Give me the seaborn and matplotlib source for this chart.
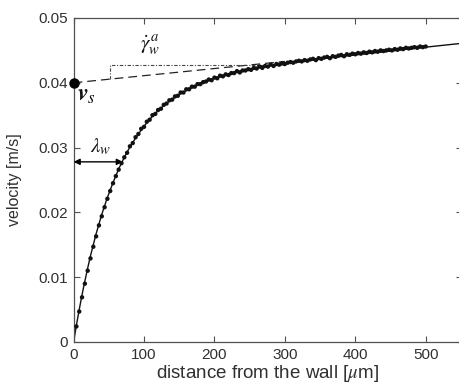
import numpy as np
import pandas as pd
import matplotlib
matplotlib.use("Agg")
import matplotlib.pyplot as plt
import seaborn as sns

# ---- data ----
data_x = [4, 8, 12, 16, 20, 24, 28, 32, 36, 40, 44, 48, 52, 56, 60, 64, 68, 72, 76, 80,
          84, 88, 92, 96, 100, 104, 108, 112, 116, 120, 124, 128, 132, 136, 140, 144, 148, 152, 156, 160,
          164, 168, 172, 176, 180, 184, 188, 192, 196, 200, 204, 208, 212, 216, 220, 224, 228, 232, 236, 240,
          244, 248, 252, 256, 260, 264, 268, 272, 276, 280, 284, 288, 292, 296, 300, 304, 308, 312, 316, 320,
          324, 328, 332, 336, 340, 344, 348, 352, 356, 360, 364, 368, 372, 376, 380, 384, 388, 392, 396, 400,
          404, 408, 412, 416, 420, 424, 428, 432, 436, 440, 444, 448, 452, 456, 460, 464, 468, 472, 476, 480,
          484, 488, 492, 496, 500]
data_v = [0.0024, 0.0047, 0.0069, 0.0090, 0.0110, 0.0129, 0.0147, 0.0163, 0.0180, 0.0194,
          0.0208, 0.0221, 0.0233, 0.0245, 0.0256, 0.0266, 0.0276, 0.0285, 0.0292, 0.0302,
          0.0307, 0.0316, 0.0321, 0.0329, 0.0332, 0.0340, 0.0343, 0.0350, 0.0352, 0.0358,
          0.0360, 0.0366, 0.0368, 0.0373, 0.0374, 0.0379, 0.0380, 0.0385, 0.0385, 0.0390,
          0.0390, 0.0394, 0.0394, 0.0398, 0.0398, 0.0401, 0.0402, 0.0405, 0.0404, 0.0408,
          0.0407, 0.0411, 0.0410, 0.0413, 0.0412, 0.0415, 0.0415, 0.0418, 0.0416, 0.0419,
          0.0419, 0.0421, 0.0420, 0.0423, 0.0422, 0.0425, 0.0423, 0.0426, 0.0425, 0.0428,
          0.0426, 0.0429, 0.0428, 0.0430, 0.0429, 0.0431, 0.0432, 0.0431, 0.0433, 0.0434,
          0.0433, 0.0435, 0.0434, 0.0436, 0.0437, 0.0435, 0.0438, 0.0437, 0.0439, 0.0440,
          0.0438, 0.0441, 0.0440, 0.0442, 0.0443, 0.0441, 0.0444, 0.0443, 0.0445, 0.0444,
          0.0446, 0.0445, 0.0447, 0.0446, 0.0448, 0.0447, 0.0449, 0.0448, 0.0450, 0.0449,
          0.0450, 0.0451, 0.0450, 0.0452, 0.0451, 0.0453, 0.0452, 0.0454, 0.0453, 0.0454,
          0.0455, 0.0454, 0.0456, 0.0455, 0.0456]

fit_x = [0, 4, 8, 12, 16, 20, 24, 28, 32, 36, 40, 48, 56, 64, 72, 80, 90, 100, 110, 120,
         135, 150, 165, 180, 200, 220, 240, 260, 280, 300, 350, 400, 450, 500, 552]
fit_v = [0.0, 0.0026, 0.0050, 0.0073, 0.0094, 0.0114, 0.0133, 0.0150, 0.0167, 0.0182,
         0.0197, 0.0223, 0.0246, 0.0267, 0.0285, 0.0301, 0.0318, 0.0333, 0.0346, 0.0357,
         0.0371, 0.0382, 0.0391, 0.0399, 0.0407, 0.0413, 0.0419, 0.0423, 0.0427, 0.0430,
         0.0437, 0.0443, 0.0449, 0.0455, 0.0461]

slip_x = [0, 300]
slip_v = [0.0400, 0.0433]

slope_x = [52, 52, 300]
slope_v = [0.0406, 0.0428, 0.0428]

vs_point = (0, 0.0400)
lambda_w = 70
lambda_v = 0.0278

x_ticks = [0, 100, 200, 300, 400, 500]
x_labels = ["0", "100", "200", "300", "400", "500"]
y_ticks = [0, 0.01, 0.02, 0.03, 0.04, 0.05]
y_labels = ["0", "0.01", "0.02", "0.03", "0.04", "0.05"]

# ---- style ----
sns.set_style("ticks")
plt.rcParams["font.family"] = ["Liberation Sans", "DejaVu Sans"]
plt.rcParams["mathtext.fontset"] = "stix"
txt = "#303030"
spine_c = "#505050"

fig = plt.figure(figsize=(4.6, 3.87), dpi=100)
ax = fig.add_axes([0.160, 0.1163, 0.845, 0.8372])

df_fit = pd.DataFrame({"x": fit_x, "v": fit_v})
df_data = pd.DataFrame({"x": data_x, "v": data_v})
df_slip = pd.DataFrame({"x": slip_x, "v": slip_v})
df_slope = pd.DataFrame({"x": slope_x, "v": slope_v})

sns.lineplot(data=df_slip, x="x", y="v", ax=ax, color="#222222", lw=0.9,
             linestyle=(0, (7, 4)), estimator=None, sort=False)
sns.lineplot(data=df_slope, x="x", y="v", ax=ax, color="#444444", lw=0.8,
             linestyle=(0, (3, 1.5, 1, 1.5)), estimator=None, sort=False)
sns.lineplot(data=df_fit, x="x", y="v", ax=ax, color="#111111", lw=1.0,
             estimator=None, sort=False)
sns.scatterplot(data=df_data, x="x", y="v", ax=ax, color="#111111", s=10,
                marker="o", edgecolor="none", linewidth=0, zorder=4)

ax.plot([vs_point[0]], [vs_point[1]], "o", color="black", ms=6.5, clip_on=False, zorder=5)

ax.annotate("", xy=(0, lambda_v), xytext=(lambda_w, lambda_v),
            arrowprops=dict(arrowstyle="<|-|>", color="black", lw=1.0,
                            mutation_scale=9, shrinkA=0, shrinkB=0))

ax.text(39, 0.0301, r"$\lambda_w$", fontsize=15, color="#111111", ha="center", va="center")
ax.text(109, 0.0457, r"$\dot{\gamma}_w^{\,a}$", fontsize=15, color="#111111", ha="center", va="center")
ax.text(18, 0.0381, r"$\boldsymbol{v}_s$", fontsize=17, color="#111111", ha="center", va="center")

ax.set_xlim(0, 552)
ax.set_ylim(0, 0.05)
ax.set_xticks(x_ticks)
ax.set_xticklabels(x_labels)
ax.set_yticks(y_ticks)
ax.set_yticklabels(y_labels)
ax.tick_params(direction="in", length=4, width=0.8, top=True, right=True,
               labelsize=11, colors=spine_c, labelcolor=txt, pad=4)
for s in ax.spines.values():
    s.set_color(spine_c)
    s.set_linewidth(0.9)

ax.set_xlabel(r"distance from the wall [$\mu$m]", fontsize=13.5, color=txt, labelpad=1)
ax.set_ylabel("velocity [m/s]", fontsize=11.5, color=txt, labelpad=12)

fig.savefig("out.png", dpi=100)
